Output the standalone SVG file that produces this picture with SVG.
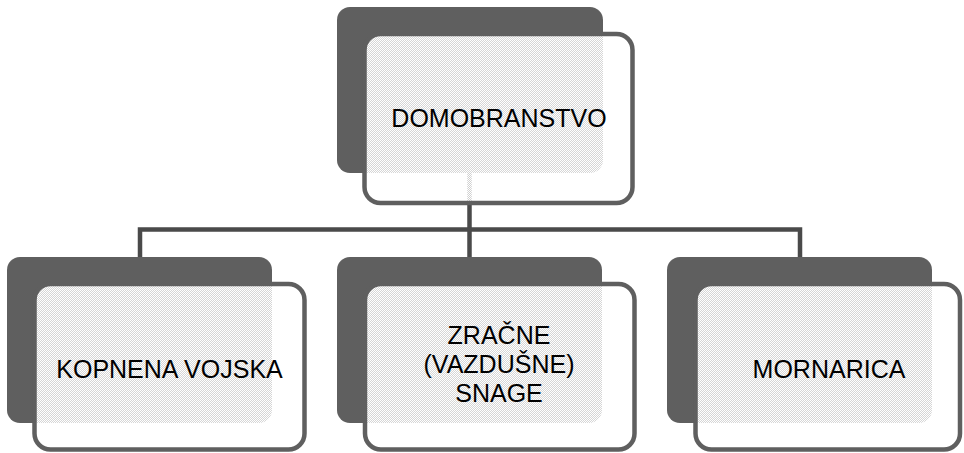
<svg xmlns="http://www.w3.org/2000/svg" width="964" height="453" viewBox="0 0 964 453">
  <defs>
    <pattern id="pat" width="2" height="2" patternUnits="userSpaceOnUse">
      <rect width="2" height="2" fill="#ffffff" fill-opacity="0.74"/>
      <rect x="0" y="0" width="1" height="1" fill="#ffffff"/>
      <rect x="1" y="1" width="1" height="1" fill="#ffffff"/>
    </pattern>
    <style>
      .back { fill: #5f5f5f; }
      .front { fill: url(#pat); stroke: #5f5f5f; stroke-width: 4.5; }
      .conn { fill: none; stroke: #4a4a4a; stroke-width: 4.5; stroke-linecap: butt; stroke-linejoin: miter; }
      .lbl { font-family: "Liberation Sans", Arial, sans-serif; font-size: 25px; fill: #000000; text-anchor: middle; }
    </style>
  </defs>
  <rect width="964" height="453" fill="#ffffff"/>

  <g id="connectors">
    <path class="conn" d="M469.5,173 V229.5"/>
    <path class="conn" d="M140,257 V229.5 H800 V257"/>
    <path class="conn" d="M469.5,229.5 V257"/>
  </g>

  <g id="domobranstvo">
    <rect class="back" x="337" y="7" width="266" height="166" rx="13"/>
    <rect class="front" x="364.5" y="34" width="268" height="169" rx="16"/>
    <text class="lbl" x="499" y="127">DOMOBRANSTVO</text>
  </g>

  <g id="kopnena-vojska">
    <rect class="back" x="7" y="257" width="265" height="166" rx="13"/>
    <rect class="front" x="34.5" y="284" width="270" height="165.5" rx="16"/>
    <text class="lbl" x="169.5" y="378">KOPNENA VOJSKA</text>
  </g>

  <g id="zracne-snage">
    <rect class="back" x="337" y="257" width="265" height="166" rx="13"/>
    <rect class="front" x="365" y="284" width="269.5" height="165.5" rx="16"/>
    <text class="lbl" x="499" y="344">ZRAČNE</text>
    <text class="lbl" x="499" y="373">(VAZDUŠNE)</text>
    <text class="lbl" x="499" y="402">SNAGE</text>
  </g>

  <g id="mornarica">
    <rect class="back" x="667" y="257" width="265" height="166" rx="13"/>
    <rect class="front" x="695.5" y="284" width="264.5" height="165.5" rx="16"/>
    <text class="lbl" x="829" y="378">MORNARICA</text>
  </g>
</svg>
